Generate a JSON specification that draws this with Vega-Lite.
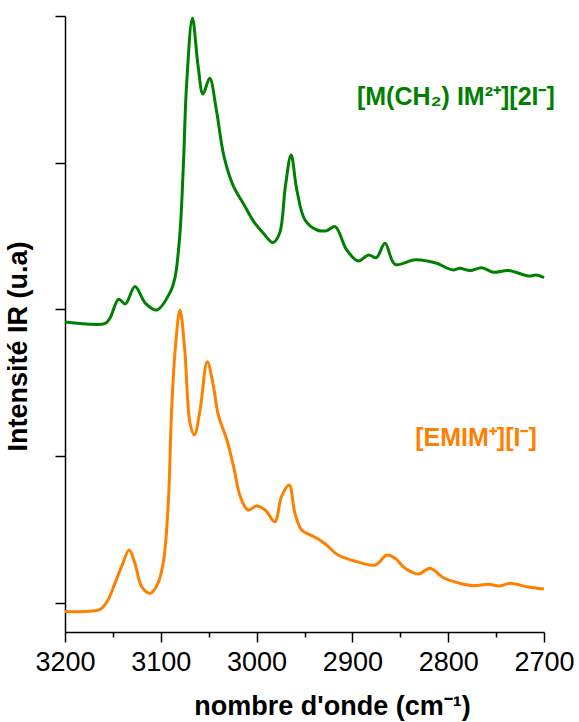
{
  "$schema": "https://vega.github.io/schema/vega-lite/v6.json",
  "width": 479,
  "height": 616,
  "autosize": {"type": "none"},
  "padding": {"left": 65, "top": 16, "right": 35, "bottom": 90},
  "background": "white",
  "config": {"view": {"stroke": null}, "font": "Liberation Sans"},
  "datasets": {
    "spectra": [
      {"sample": "M(CH2)IM", "wavenumber": 3200, "intensity": 1.914},
      {"sample": "M(CH2)IM", "wavenumber": 3158, "intensity": 1.905},
      {"sample": "M(CH2)IM", "wavenumber": 3153, "intensity": 1.941},
      {"sample": "M(CH2)IM", "wavenumber": 3144, "intensity": 2.069},
      {"sample": "M(CH2)IM", "wavenumber": 3137, "intensity": 2.037},
      {"sample": "M(CH2)IM", "wavenumber": 3127, "intensity": 2.155},
      {"sample": "M(CH2)IM", "wavenumber": 3116, "intensity": 2.041},
      {"sample": "M(CH2)IM", "wavenumber": 3104, "intensity": 1.996},
      {"sample": "M(CH2)IM", "wavenumber": 3090, "intensity": 2.120},
      {"sample": "M(CH2)IM", "wavenumber": 3085, "intensity": 2.223},
      {"sample": "M(CH2)IM", "wavenumber": 3080, "intensity": 2.521},
      {"sample": "M(CH2)IM", "wavenumber": 3076.5, "intensity": 2.973},
      {"sample": "M(CH2)IM", "wavenumber": 3073, "intensity": 3.541},
      {"sample": "M(CH2)IM", "wavenumber": 3067, "intensity": 3.984},
      {"sample": "M(CH2)IM", "wavenumber": 3061, "intensity": 3.654},
      {"sample": "M(CH2)IM", "wavenumber": 3056, "intensity": 3.468},
      {"sample": "M(CH2)IM", "wavenumber": 3049, "intensity": 3.575},
      {"sample": "M(CH2)IM", "wavenumber": 3042, "intensity": 3.359},
      {"sample": "M(CH2)IM", "wavenumber": 3034, "intensity": 3.041},
      {"sample": "M(CH2)IM", "wavenumber": 3024, "intensity": 2.836},
      {"sample": "M(CH2)IM", "wavenumber": 3014, "intensity": 2.723},
      {"sample": "M(CH2)IM", "wavenumber": 3003, "intensity": 2.598},
      {"sample": "M(CH2)IM", "wavenumber": 2993, "intensity": 2.519},
      {"sample": "M(CH2)IM", "wavenumber": 2983, "intensity": 2.455},
      {"sample": "M(CH2)IM", "wavenumber": 2976, "intensity": 2.519},
      {"sample": "M(CH2)IM", "wavenumber": 2970, "intensity": 2.836},
      {"sample": "M(CH2)IM", "wavenumber": 2964, "intensity": 3.052},
      {"sample": "M(CH2)IM", "wavenumber": 2958, "intensity": 2.814},
      {"sample": "M(CH2)IM", "wavenumber": 2949.5, "intensity": 2.609},
      {"sample": "M(CH2)IM", "wavenumber": 2937, "intensity": 2.541},
      {"sample": "M(CH2)IM", "wavenumber": 2927, "intensity": 2.536},
      {"sample": "M(CH2)IM", "wavenumber": 2918, "intensity": 2.564},
      {"sample": "M(CH2)IM", "wavenumber": 2906, "intensity": 2.405},
      {"sample": "M(CH2)IM", "wavenumber": 2894, "intensity": 2.330},
      {"sample": "M(CH2)IM", "wavenumber": 2883, "intensity": 2.371},
      {"sample": "M(CH2)IM", "wavenumber": 2875, "intensity": 2.352},
      {"sample": "M(CH2)IM", "wavenumber": 2866, "intensity": 2.450},
      {"sample": "M(CH2)IM", "wavenumber": 2855.5, "intensity": 2.307},
      {"sample": "M(CH2)IM", "wavenumber": 2836, "intensity": 2.337},
      {"sample": "M(CH2)IM", "wavenumber": 2822, "intensity": 2.330},
      {"sample": "M(CH2)IM", "wavenumber": 2812, "intensity": 2.314},
      {"sample": "M(CH2)IM", "wavenumber": 2795, "intensity": 2.268},
      {"sample": "M(CH2)IM", "wavenumber": 2788, "intensity": 2.280},
      {"sample": "M(CH2)IM", "wavenumber": 2777, "intensity": 2.264},
      {"sample": "M(CH2)IM", "wavenumber": 2765, "intensity": 2.284},
      {"sample": "M(CH2)IM", "wavenumber": 2753, "intensity": 2.253},
      {"sample": "M(CH2)IM", "wavenumber": 2737, "intensity": 2.264},
      {"sample": "M(CH2)IM", "wavenumber": 2716, "intensity": 2.227},
      {"sample": "M(CH2)IM", "wavenumber": 2708, "intensity": 2.234},
      {"sample": "M(CH2)IM", "wavenumber": 2700, "intensity": 2.216},
      {"sample": "EMIM", "wavenumber": 3200, "intensity": -0.061},
      {"sample": "EMIM", "wavenumber": 3175, "intensity": -0.058},
      {"sample": "EMIM", "wavenumber": 3163, "intensity": -0.045},
      {"sample": "EMIM", "wavenumber": 3155, "intensity": 0.020},
      {"sample": "EMIM", "wavenumber": 3148, "intensity": 0.130},
      {"sample": "EMIM", "wavenumber": 3141, "intensity": 0.245},
      {"sample": "EMIM", "wavenumber": 3133, "intensity": 0.359},
      {"sample": "EMIM", "wavenumber": 3127, "intensity": 0.269},
      {"sample": "EMIM", "wavenumber": 3120, "intensity": 0.109},
      {"sample": "EMIM", "wavenumber": 3111, "intensity": 0.064},
      {"sample": "EMIM", "wavenumber": 3103, "intensity": 0.132},
      {"sample": "EMIM", "wavenumber": 3097, "intensity": 0.291},
      {"sample": "EMIM", "wavenumber": 3092, "intensity": 0.700},
      {"sample": "EMIM", "wavenumber": 3089, "intensity": 1.268},
      {"sample": "EMIM", "wavenumber": 3085, "intensity": 1.723},
      {"sample": "EMIM", "wavenumber": 3080, "intensity": 1.996},
      {"sample": "EMIM", "wavenumber": 3075, "intensity": 1.723},
      {"sample": "EMIM", "wavenumber": 3069.5, "intensity": 1.223},
      {"sample": "EMIM", "wavenumber": 3065, "intensity": 1.143},
      {"sample": "EMIM", "wavenumber": 3059, "intensity": 1.314},
      {"sample": "EMIM", "wavenumber": 3051.5, "intensity": 1.643},
      {"sample": "EMIM", "wavenumber": 3045, "intensity": 1.473},
      {"sample": "EMIM", "wavenumber": 3040, "intensity": 1.280},
      {"sample": "EMIM", "wavenumber": 3031, "intensity": 1.109},
      {"sample": "EMIM", "wavenumber": 3024, "intensity": 0.927},
      {"sample": "EMIM", "wavenumber": 3017, "intensity": 0.723},
      {"sample": "EMIM", "wavenumber": 3009, "intensity": 0.632},
      {"sample": "EMIM", "wavenumber": 3000, "intensity": 0.659},
      {"sample": "EMIM", "wavenumber": 2991, "intensity": 0.632},
      {"sample": "EMIM", "wavenumber": 2981, "intensity": 0.552},
      {"sample": "EMIM", "wavenumber": 2974, "intensity": 0.723},
      {"sample": "EMIM", "wavenumber": 2966, "intensity": 0.802},
      {"sample": "EMIM", "wavenumber": 2960, "intensity": 0.610},
      {"sample": "EMIM", "wavenumber": 2953, "intensity": 0.496},
      {"sample": "EMIM", "wavenumber": 2944, "intensity": 0.462},
      {"sample": "EMIM", "wavenumber": 2934, "intensity": 0.428},
      {"sample": "EMIM", "wavenumber": 2927, "intensity": 0.393},
      {"sample": "EMIM", "wavenumber": 2915, "intensity": 0.325},
      {"sample": "EMIM", "wavenumber": 2895.5, "intensity": 0.280},
      {"sample": "EMIM", "wavenumber": 2876, "intensity": 0.257},
      {"sample": "EMIM", "wavenumber": 2864, "intensity": 0.325},
      {"sample": "EMIM", "wavenumber": 2855.5, "intensity": 0.303},
      {"sample": "EMIM", "wavenumber": 2845, "intensity": 0.235},
      {"sample": "EMIM", "wavenumber": 2831, "intensity": 0.196},
      {"sample": "EMIM", "wavenumber": 2819, "intensity": 0.235},
      {"sample": "EMIM", "wavenumber": 2805, "intensity": 0.170},
      {"sample": "EMIM", "wavenumber": 2788, "intensity": 0.132},
      {"sample": "EMIM", "wavenumber": 2774, "intensity": 0.116},
      {"sample": "EMIM", "wavenumber": 2758, "intensity": 0.125},
      {"sample": "EMIM", "wavenumber": 2746, "intensity": 0.114},
      {"sample": "EMIM", "wavenumber": 2735.5, "intensity": 0.132},
      {"sample": "EMIM", "wavenumber": 2718, "intensity": 0.109},
      {"sample": "EMIM", "wavenumber": 2700, "intensity": 0.093}
    ],
    "labels": [
      {"sample": "M(CH2)IM", "label": "[M(CH₂) IM²⁺][2I⁻]", "wavenumber": 2792, "intensity": 3.45},
      {"sample": "EMIM", "label": "[EMIM⁺][I⁻]", "wavenumber": 2771, "intensity": 1.12}
    ]
  },
  "layer": [
    {
      "data": {"name": "spectra"},
      "mark": {"type": "line", "strokeWidth": 3, "interpolate": "catmull-rom"},
      "encoding": {
        "x": {
          "field": "wavenumber",
          "type": "quantitative",
          "scale": {"domain": [2700, 3200], "reverse": true, "nice": false, "zero": false},
          "axis": {
            "values": [3200, 3150, 3100, 3050, 3000, 2950, 2900, 2850, 2800, 2750, 2700],
            "labelExpr": "datum.value % 100 === 0 ? datum.label : ''",
            "format": "d",
            "grid": false,
            "labelFlush": false,
            "labelOverlap": false,
            "labelFontSize": 27,
            "labelColor": "black",
            "labelPadding": 7,
            "domainColor": "black",
            "domainWidth": 1.5,
            "tickColor": "black",
            "tickWidth": 1.5,
            "tickSize": {"condition": {"test": "datum.value % 100 === 0", "value": 10}, "value": 5},
            "title": "nombre d'onde (cm⁻¹)",
            "titleFontSize": 27,
            "titleFontWeight": "bold",
            "titleColor": "black",
            "titleX": 267,
            "titleY": 74,
            "titleBaseline": "middle"
          }
        },
        "y": {
          "field": "intensity",
          "type": "quantitative",
          "scale": {"domain": [-0.2, 4], "nice": false, "zero": false},
          "axis": {
            "values": [0, 1, 2, 3, 4],
            "labels": false,
            "grid": false,
            "domainColor": "black",
            "domainWidth": 1.5,
            "tickColor": "black",
            "tickWidth": 1.5,
            "tickSize": 10,
            "title": "Intensité IR (u.a)",
            "titleFontSize": 27,
            "titleFontWeight": "bold",
            "titleColor": "black",
            "titlePadding": 22,
            "titleY": 330
          }
        },
        "color": {
          "field": "sample",
          "type": "nominal",
          "scale": {"domain": ["M(CH2)IM", "EMIM"], "range": ["#008000", "#FF8000"]},
          "legend": null
        }
      }
    },
    {
      "data": {"name": "labels"},
      "mark": {"type": "text", "fontWeight": "bold", "fontSize": 25, "font": "Liberation Sans"},
      "encoding": {
        "x": {"field": "wavenumber", "type": "quantitative"},
        "y": {"field": "intensity", "type": "quantitative"},
        "text": {"field": "label"},
        "color": {"field": "sample", "type": "nominal", "legend": null}
      }
    }
  ]
}
